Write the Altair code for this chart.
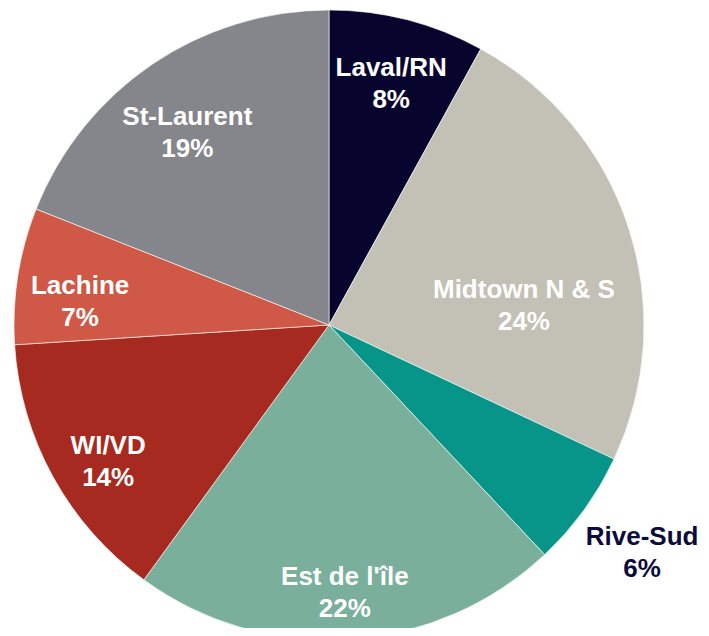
import altair as alt
import pandas as pd
import math

categories = ["Laval/RN", "Midtown N & S", "Rive-Sud", "Est de l'île", "WI/VD", "Lachine", "St-Laurent"]
shares = [8, 24, 6, 22, 14, 7, 19]
colors = ["#07052E", "#C3C0B5", "#07958A", "#7AAF9B", "#A62A20", "#CF5946", "#85868B"]

df = pd.DataFrame({"cat": categories, "pct": shares, "order": list(range(len(categories)))})

cx, cy, R = 321, 317, 315

arcs = alt.Chart(df).mark_arc(outerRadius=R, stroke="white", strokeWidth=0.6).encode(
    theta=alt.Theta("pct:Q", stack=True),
    order=alt.Order("order:Q"),
    x=alt.value(cx),
    y=alt.value(cy),
    color=alt.Color("cat:N", scale=alt.Scale(domain=categories, range=colors), legend=None),
)

lab = alt.Chart(df).transform_window(
    cum="sum(pct)", sort=[alt.SortField("order")], frame=[None, 0]
).transform_calculate(
    mid="datum.cum - datum.pct / 2",
    label="datum.cat + '\\n' + datum.pct + '%'",
).encode(
    theta=alt.Theta("mid:Q", stack=None, scale=alt.Scale(domain=[0, 100], range=[0, 2 * math.pi])),
    x=alt.value(cx),
    y=alt.value(cy),
    text="label:N",
)

txt = dict(font="Liberation Sans", fontWeight="bold", fontSize=26, lineBreak="\n",
           lineHeight=32, align="center", baseline="middle")

inner = lab.transform_filter(
    alt.FieldOneOfPredicate(field="cat", oneOf=["Est de l'île", "WI/VD", "Lachine", "St-Laurent"])
).mark_text(radius=252, color="white", **txt)

laval = lab.transform_filter(
    alt.FieldEqualPredicate(field="cat", equal="Laval/RN")
).mark_text(radius=250, dy=-15, color="white", **txt)

mid_lab = lab.transform_filter(
    alt.FieldEqualPredicate(field="cat", equal="Midtown N & S")
).mark_text(radius=205, dy=28, color="white", **txt)

outer = lab.transform_filter(
    alt.FieldEqualPredicate(field="cat", equal="Rive-Sud")
).mark_text(radius=387, dy=-15, color="#0B0A3A", **txt)

chart = alt.layer(arcs, inner, laval, mid_lab, outer).properties(
    width=693, height=620, padding=0, autosize=alt.AutoSizeParams(type="none")
).configure_view(stroke=None)

chart.save("out.html", embed_options={"renderer": "svg", "actions": False})
